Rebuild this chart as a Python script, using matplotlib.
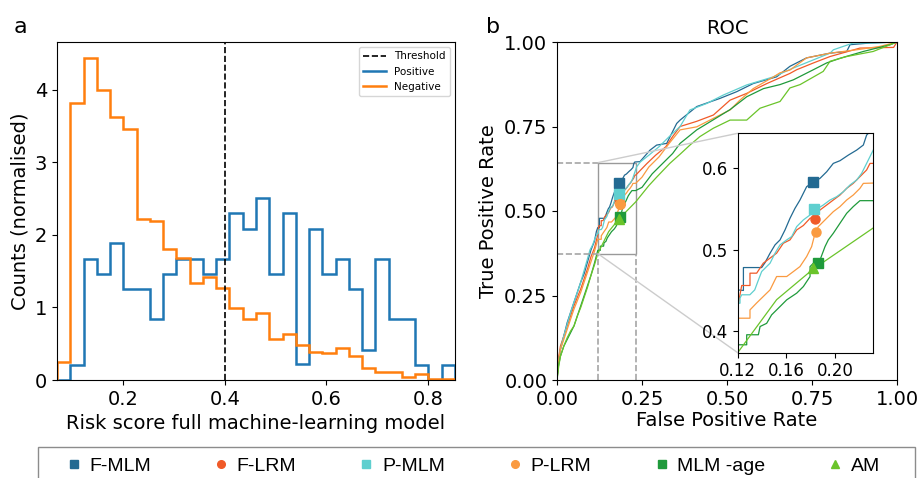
#!/usr/bin/env python3
"""
Risk score histogram (a) and ROC curves with zoomed inset (b)
"""

import numpy as np
import matplotlib
matplotlib.use('Agg')
import matplotlib.pyplot as plt
from matplotlib.lines import Line2D
from matplotlib.patches import Rectangle
from mpl_toolkits.axes_grid1.inset_locator import mark_inset

# ---------------- panel a: histogram ----------------
bin_edges = np.linspace(0.070, 0.853, 31)
positive = [0.0, 0.207, 1.674, 1.457, 1.885, 1.26, 1.26, 0.837, 1.457, 1.674,
            1.674, 1.457, 1.674, 2.303, 2.087, 2.51, 1.457, 2.303, 0.216, 2.087,
            1.457, 1.674, 1.26, 0.414, 1.674, 0.837, 0.837, 0.207, 0.0, 0.207]
negative = [0.244, 3.825, 4.437, 4.0, 3.623, 3.457, 2.216, 2.188, 1.80, 1.687,
            1.342, 1.416, 1.264, 0.989, 0.846, 0.929, 0.561, 0.634, 0.483, 0.391,
            0.377, 0.437, 0.331, 0.170, 0.106, 0.115, 0.037, 0.078, 0.014, 0.014]
threshold = 0.401

# ---------------- panel b: ROC curves (fpr, tpr) ----------------
fmlm_fpr = [0, 0.003, 0.01, 0.02, 0.03, 0.04, 0.05, 0.06, 0.07, 0.08, 0.09, 0.10, 0.11, 0.116, 0.12,
            0.1247, 0.1247, 0.1397, 0.1425, 0.1466, 0.1507, 0.1548, 0.1589, 0.163, 0.1671, 0.1712,
            0.1767, 0.1808, 0.1877, 0.1932, 0.1986, 0.2041, 0.211, 0.2178, 0.2233, 0.226, 0.2288,
            0.244, 0.2735, 0.293, 0.3226, 0.352, 0.362, 0.411, 0.479, 0.5285, 0.577, 0.646, 0.685,
            0.734, 0.803, 0.852, 0.862, 0.92, 1.0]
fmlm_tpr = [0, 0.05, 0.09, 0.13, 0.17, 0.20, 0.23, 0.26, 0.29, 0.315, 0.35, 0.385, 0.41, 0.44, 0.451,
            0.4503, 0.4784, 0.4784, 0.4845, 0.496, 0.5062, 0.5123, 0.5245, 0.5388, 0.551, 0.5612,
            0.5776, 0.5816, 0.5878, 0.5959, 0.6061, 0.6094, 0.6163, 0.6224, 0.6286, 0.6408, 0.645,
            0.646, 0.68, 0.695, 0.70, 0.759, 0.769, 0.809, 0.833, 0.853, 0.877, 0.897, 0.928,
            0.953, 0.967, 0.972, 0.992, 0.997, 1.0]

flrm_fpr = [0, 0.004, 0.01, 0.02, 0.03, 0.04, 0.05, 0.06, 0.07, 0.08, 0.09, 0.10, 0.11, 0.12,
            0.1233, 0.1301, 0.1301, 0.1356, 0.141, 0.1466, 0.152, 0.1575, 0.163, 0.1685, 0.174,
            0.1795, 0.1836, 0.1877, 0.1932, 0.1986, 0.2041, 0.2096, 0.215, 0.2205, 0.226, 0.2288,
            0.2315, 0.24, 0.264, 0.29, 0.32, 0.34, 0.362, 0.41, 0.46, 0.509, 0.558, 0.617, 0.685,
            0.705, 0.754, 0.803, 0.891, 0.99, 1.0]
flrm_tpr = [0, 0.06, 0.10, 0.13, 0.16, 0.19, 0.22, 0.245, 0.27, 0.30, 0.33, 0.365, 0.39, 0.43,
            0.4564, 0.4564, 0.4715, 0.4715, 0.4837, 0.49, 0.496, 0.5082, 0.5123, 0.5245, 0.53,
            0.5388, 0.5416, 0.549, 0.5551, 0.5612, 0.5673, 0.5755, 0.5816, 0.5898, 0.598, 0.6061,
            0.6061, 0.615, 0.64, 0.665, 0.69, 0.72, 0.75, 0.765, 0.784, 0.828, 0.848, 0.877, 0.907,
            0.918, 0.938, 0.957, 0.982, 0.984, 1.0]

pmlm_fpr = [0, 0.003, 0.01, 0.02, 0.03, 0.04, 0.05, 0.06, 0.07, 0.08, 0.09, 0.097, 0.105, 0.112, 0.12,
            0.1219, 0.1219, 0.1233, 0.13, 0.134, 0.1365, 0.1397, 0.1438, 0.1466, 0.1507, 0.1548,
            0.1603, 0.1644, 0.1685, 0.174, 0.1795, 0.185, 0.1904, 0.1959, 0.2014, 0.2069, 0.2123,
            0.2178, 0.2219, 0.226, 0.2301, 0.2342, 0.245, 0.27, 0.30, 0.33, 0.362, 0.391, 0.44,
            0.489, 0.558, 0.637, 0.695, 0.744, 0.803, 0.813, 0.871, 0.92, 1.0]
pmlm_tpr = [0, 0.04, 0.09, 0.13, 0.165, 0.20, 0.23, 0.26, 0.29, 0.325, 0.36, 0.385, 0.40, 0.42, 0.4347,
            0.4347, 0.441, 0.445, 0.445, 0.451, 0.461, 0.4735, 0.4796, 0.4837, 0.496, 0.5062,
            0.5123, 0.5164, 0.5286, 0.5368, 0.5429, 0.55, 0.5551, 0.5612, 0.5653, 0.5714, 0.5796,
            0.5857, 0.5939, 0.6061, 0.6184, 0.6306, 0.645, 0.665, 0.69, 0.72, 0.75, 0.799, 0.818,
            0.843, 0.873, 0.897, 0.923, 0.943, 0.967, 0.977, 0.997, 0.997, 1.0]

plrm_fpr = [0, 0.004, 0.01, 0.02, 0.03, 0.04, 0.05, 0.06, 0.07, 0.08, 0.09, 0.10, 0.11, 0.12,
            0.1301, 0.1301, 0.1356, 0.1411, 0.1466, 0.152, 0.1603, 0.1658, 0.1712, 0.1767, 0.1808,
            0.1836, 0.1863, 0.1918, 0.1986, 0.2041, 0.2096, 0.215, 0.2205, 0.2233, 0.2315,
            0.25, 0.27, 0.30, 0.33, 0.362, 0.411, 0.45, 0.509, 0.538, 0.577, 0.637, 0.656, 0.685,
            0.734, 0.803, 0.881, 0.95, 1.0]
plrm_tpr = [0, 0.05, 0.09, 0.12, 0.15, 0.18, 0.21, 0.235, 0.26, 0.29, 0.32, 0.35, 0.38, 0.4163,
            0.4163, 0.4265, 0.435, 0.443, 0.451, 0.4674, 0.4674, 0.4735, 0.4796, 0.4919, 0.5041,
            0.5204, 0.5286, 0.5368, 0.5469, 0.5531, 0.5612, 0.5673, 0.5755, 0.5816, 0.582,
            0.60, 0.63, 0.66, 0.70, 0.74, 0.749, 0.769, 0.799, 0.828, 0.862, 0.897, 0.909, 0.917,
            0.953, 0.967, 0.977, 0.987, 1.0]

mlmage_fpr = [0, 0.004, 0.01, 0.02, 0.03, 0.04, 0.05, 0.06, 0.07, 0.08, 0.09, 0.10, 0.11, 0.12,
              0.1274, 0.1274, 0.137, 0.1384, 0.1438, 0.1479, 0.1548, 0.1603, 0.1685, 0.174, 0.1795,
              0.1795, 0.1822, 0.1877, 0.1918, 0.1945, 0.1986, 0.2041, 0.2096, 0.215, 0.2205, 0.2315,
              0.25, 0.28, 0.31, 0.34, 0.362, 0.411, 0.46, 0.509, 0.558, 0.607, 0.656, 0.695, 0.754,
              0.793, 0.833, 0.901, 0.98, 1.0]
mlmage_tpr = [0, 0.04, 0.07, 0.10, 0.12, 0.14, 0.16, 0.19, 0.22, 0.25, 0.28, 0.31, 0.345, 0.3837,
              0.3837, 0.396, 0.396, 0.4061, 0.41, 0.4204, 0.4306, 0.4388, 0.447, 0.4551, 0.4674,
              0.4796, 0.4837, 0.4878, 0.5041, 0.5123, 0.5204, 0.5327, 0.5449, 0.5531, 0.5604, 0.5604,
              0.57, 0.61, 0.64, 0.67, 0.70, 0.74, 0.77, 0.80, 0.838, 0.862, 0.874, 0.888, 0.918,
              0.938, 0.952, 0.972, 0.992, 1.0]

am_fpr = [0, 0.005, 0.01, 0.02, 0.03, 0.04, 0.05, 0.06, 0.07, 0.08, 0.09, 0.10, 0.11, 0.12,
          0.152, 0.1816, 0.2315, 0.27, 0.293, 0.332, 0.362, 0.391, 0.42, 0.46, 0.509, 0.558,
          0.597, 0.656, 0.685, 0.715, 0.783, 0.803, 0.852, 0.93, 1.0]
am_tpr = [0, 0.04, 0.07, 0.10, 0.125, 0.145, 0.16, 0.19, 0.215, 0.245, 0.275, 0.31, 0.34, 0.374,
          0.439, 0.476, 0.527, 0.575, 0.60, 0.641, 0.668, 0.695, 0.72, 0.745, 0.769, 0.769,
          0.804, 0.824, 0.864, 0.874, 0.913, 0.943, 0.957, 0.972, 1.0]

# operating points at the threshold
model_names = ['F-MLM', 'F-LRM', 'P-MLM', 'P-LRM', 'MLM -age', 'AM']
point_fpr = [0.1816, 0.1836, 0.183, 0.1844, 0.1863, 0.1816]
point_tpr = [0.583, 0.538, 0.550, 0.5216, 0.4837, 0.4776]
model_colors = ['#236a92', '#f05a28', '#5fcfcf', '#fa9a40', '#1f9a3b', '#6ac42a']
model_markers = ['s', 'o', 's', 'o', 's', '^']

curves = [(fmlm_fpr, fmlm_tpr), (flrm_fpr, flrm_tpr), (pmlm_fpr, pmlm_tpr),
          (plrm_fpr, plrm_tpr), (mlmage_fpr, mlmage_tpr), (am_fpr, am_tpr)]

# zoom window
zoom_x = (0.12, 0.2315)
zoom_y = (0.374, 0.643)

W, H = 921, 478
fig = plt.figure(figsize=(W / 100, H / 100), dpi=100)

# ---- a ----
ax1 = fig.add_axes([57 / W, 1 - 380 / H, 398 / W, 338 / H])
ax1.axvline(threshold, color='k', ls='--', lw=1.2, label='Threshold')
ax1.stairs(positive, bin_edges, color='#1f77b4', lw=1.8, label='Positive')
ax1.stairs(negative, bin_edges, color='#ff7f0e', lw=1.8, label='Negative')
ax1.set_xlim(bin_edges[0], bin_edges[-1])
ax1.set_ylim(0, 4.66)
ax1.set_xticks([0.2, 0.4, 0.6, 0.8])
ax1.set_yticks([0, 1, 2, 3, 4])
ax1.tick_params(labelsize=14)
ax1.set_xlabel('Risk score full machine-learning model', fontsize=14)
ax1.set_ylabel('Counts (normalised)', fontsize=14)
ax1.legend(loc='upper right', fontsize=7.5, handlelength=2.2)

# ---- b ----
ax2 = fig.add_axes([557 / W, 1 - 380 / H, 340 / W, 338 / H])
for (fpr, tpr), c in zip(curves, model_colors):
    ax2.plot(fpr, tpr, color=c, lw=0.9)
for i in range(len(model_names)):
    ax2.plot(point_fpr[i], point_tpr[i], marker=model_markers[i], color=model_colors[i],
             ms=7, ls='none', label=model_names[i])
ax2.set_xlim(0, 1)
ax2.set_ylim(0, 1)
ax2.set_xticks([0, 0.25, 0.5, 0.75, 1.0])
ax2.set_yticks([0, 0.25, 0.5, 0.75, 1.0])
ax2.tick_params(labelsize=14)
ax2.set_xlabel('False Positive Rate', fontsize=14, labelpad=2)
ax2.set_ylabel('True Positive Rate', fontsize=14)
ax2.set_title('ROC', fontsize=14)

# dashed guides from the zoom box to the axes
ax2.plot([0, zoom_x[0]], [zoom_y[1], zoom_y[1]], '--', color='0.65', lw=1.2)
ax2.plot([0, zoom_x[0]], [zoom_y[0], zoom_y[0]], '--', color='0.65', lw=1.2)
ax2.plot([zoom_x[0], zoom_x[0]], [0, zoom_y[0]], '--', color='0.65', lw=1.2)
ax2.plot([zoom_x[1], zoom_x[1]], [0, zoom_y[0]], '--', color='0.65', lw=1.2)

# inset
axins = fig.add_axes([737.7 / W, 1 - 352.7 / H, 135.6 / W, 219.4 / H])
for (fpr, tpr), c in zip(curves, model_colors):
    axins.plot(fpr, tpr, color=c, lw=0.9)
for i in range(len(model_names)):
    axins.plot(point_fpr[i], point_tpr[i], marker=model_markers[i], color=model_colors[i],
               ms=6.5, ls='none')
axins.set_xlim(*zoom_x)
axins.set_ylim(*zoom_y)
axins.set_xticks([0.12, 0.16, 0.20])
axins.set_yticks([0.4, 0.5, 0.6])
axins.tick_params(labelsize=12)
rect, c1, c2 = mark_inset(ax2, axins, loc1=2, loc2=3, fc='none', ec='0.6', lw=1.0)
c1.set_color('0.8')
c2.set_color('0.8')

# bottom legend, box runs off the bottom edge
fig.add_artist(Rectangle((38 / W, -0.1), 877 / W, 1 - 447 / H + 0.1, transform=fig.transFigure,
                         fill=False, ec='0.55', lw=1.0))
handles = [Line2D([], [], marker=m, color=c, ls='none', ms=5.5)
           for m, c in zip(model_markers, model_colors)]
fig.legend(handles, model_names, loc='center', ncol=6, mode='expand',
           bbox_to_anchor=(58 / W, 1 - 466 / H, 832 / W, 0), frameon=False,
           prop={'family': 'Liberation Sans', 'size': 14},
           handlelength=0.6, handletextpad=0.5, borderpad=0.0)

fig.text(14 / W, 1 - 33 / H, 'a', fontsize=16)
fig.text(486 / W, 1 - 33 / H, 'b', fontsize=16)

fig.savefig('out.png', dpi=100)
